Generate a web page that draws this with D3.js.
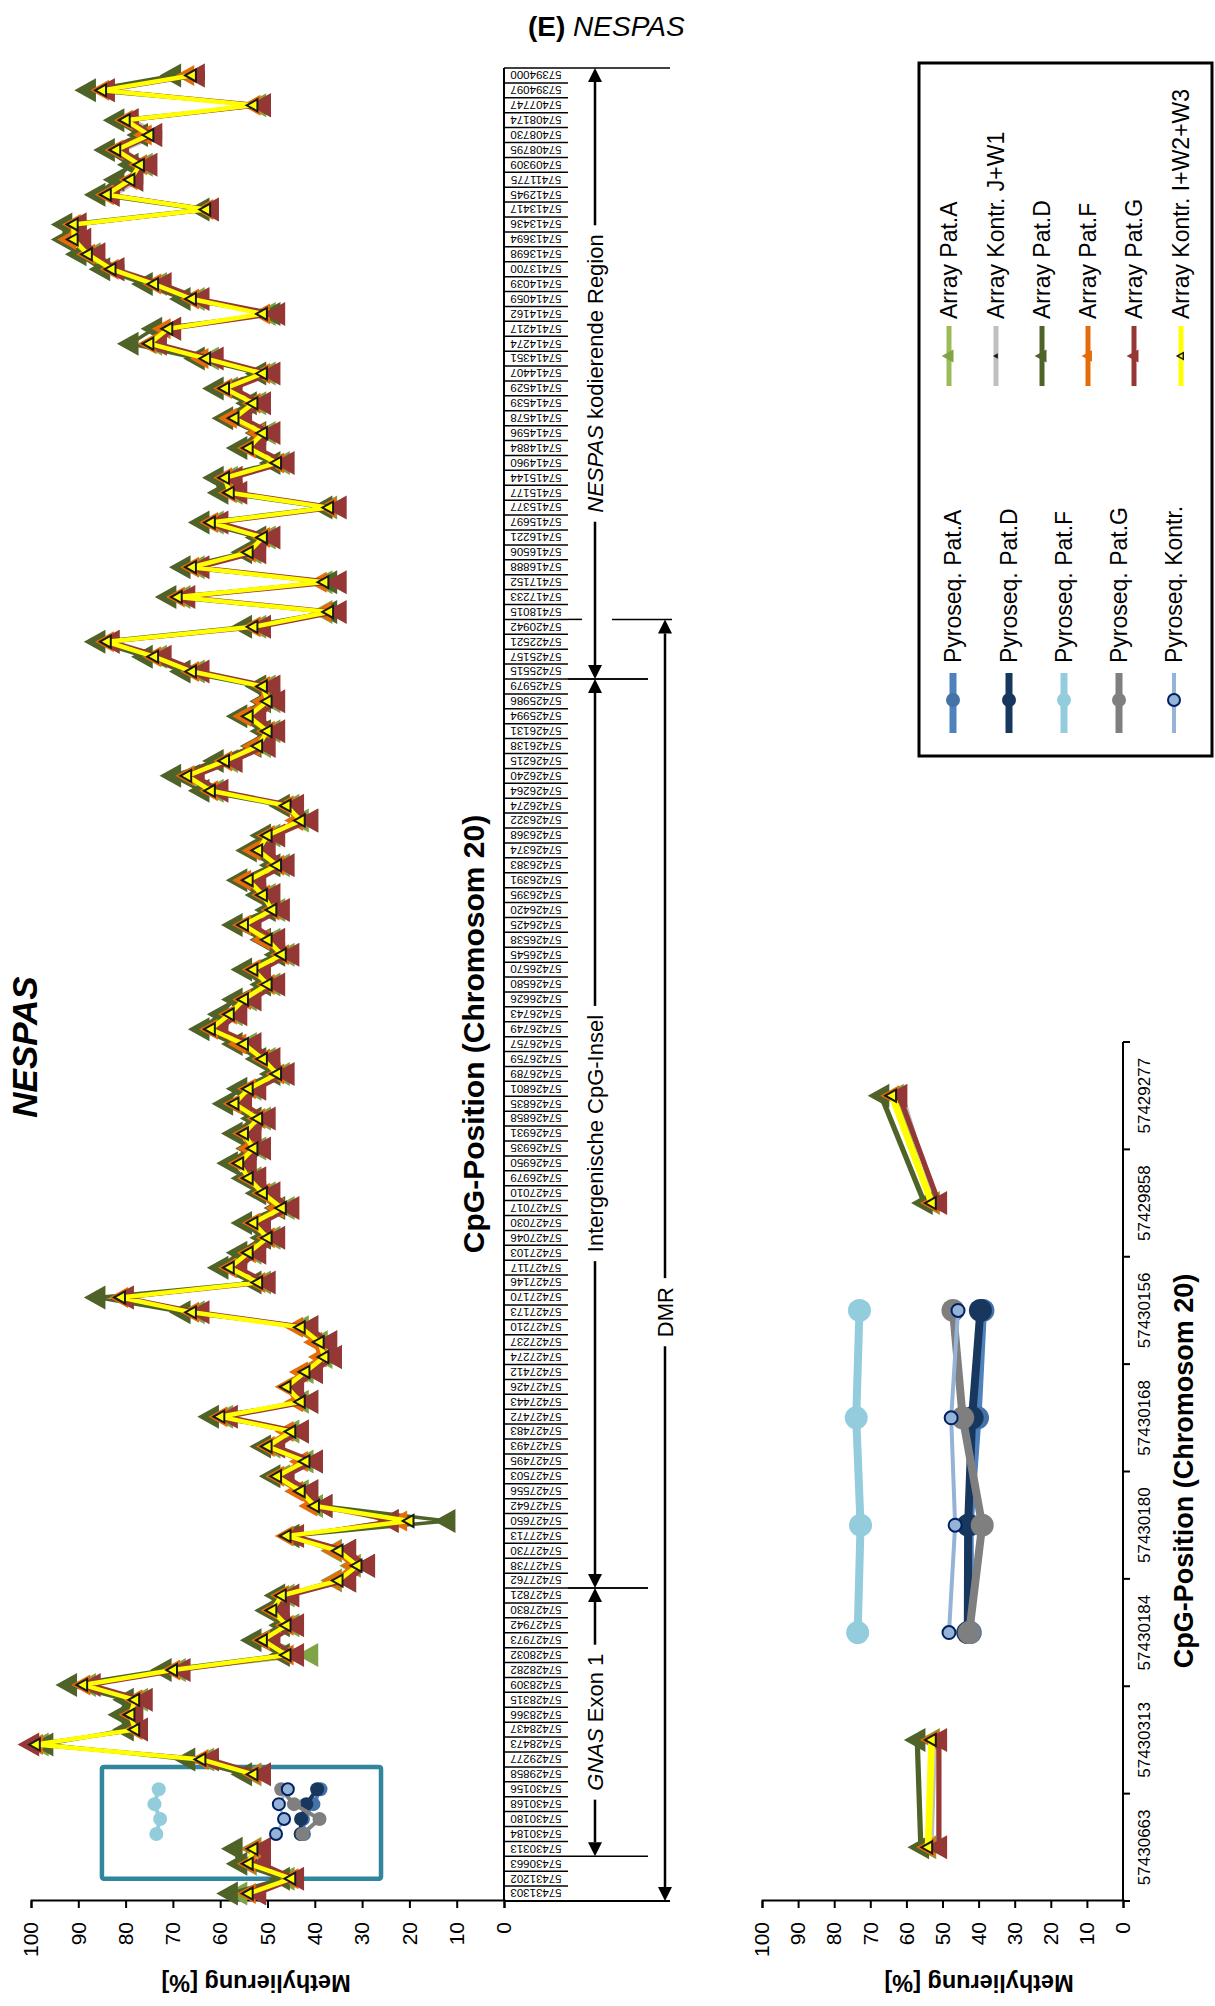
<!DOCTYPE html>
<html><head><meta charset="utf-8">
<script src="https://cdn.jsdelivr.net/npm/d3@7"></script>
<style>body{margin:0;background:#fff}svg{display:block}text{font-family:"Liberation Sans",Arial,sans-serif}</style>
</head><body><svg id="c" width="1215" height="2006"></svg>
<script>
// categories in page order (top = right end of the original x axis)
const categories = ["57394000","57394097","57407747","57408174","57408730","57408795","57409309","57411775","57412945","57413417","57413436","57413694","57413698","57413700","57414039","57414059","57414162","57414217","57414274","57414351","57414407","57414529","57414539","57414578","57414596","57414884","57414960","57415144","57415177","57415377","57415697","57416221","57416506","57416888","57417152","57417233","57418015","57420942","57422521","57425157","57425515","57425979","57425986","57425994","57426131","57426138","57426215","57426240","57426264","57426274","57426322","57426368","57426374","57426383","57426391","57426395","57426420","57426425","57426538","57426545","57426570","57426580","57426626","57426743","57426749","57426757","57426759","57426789","57426801","57426835","57426858","57426931","57426935","57426950","57426979","57427010","57427017","57427030","57427046","57427103","57427117","57427146","57427170","57427173","57427210","57427237","57427274","57427412","57427426","57427443","57427472","57427483","57427493","57427495","57427503","57427556","57427642","57427650","57427713","57427730","57427738","57427762","57427821","57427830","57427942","57427973","57428032","57428282","57428309","57428315","57428366","57428437","57428473","57429277","57429858","57430156","57430168","57430180","57430184","57430313","57430663","57431202","57431303"];
const N=null;
const arrayPatA = [65,84,52,79,74,81,76,78,83,62,90,90,87,82,73,65,50,70,74,62,50,58,52,56,50,53,47,58,57,37,61,50,53,65,38,68,38,52,83,73,65,50,49,53,49,51,58,66,61,45,43,49,51,47,53,50,48,54,49,46,52,49,54,57,61,54,50,47,53,56,51,54,52,55,53,50,46,52,49,53,57,51,80,65,43,39,38,42,45,43,59,45,49,42,47,43,40,24,45,36,32,36,46,48,45,50,41,69,88,77,78,77,98,63,53,N,N,N,N,53,54,46,56];
const arrayKontrJW1 = [64,83,52,78,73,80,76,77,82,62,89,90,86,81,72,65,50,70,73,62,50,58,52,56,50,53,47,58,56,37,61,50,53,65,38,68,37,52,82,72,65,50,49,53,49,51,58,66,61,45,42,49,51,47,53,50,48,54,49,46,52,49,54,57,61,54,50,47,53,56,51,54,52,55,53,50,46,52,49,53,57,51,79,65,42,38,37,41,45,42,59,44,49,41,47,42,39,22,45,35,31,35,46,48,45,50,45,69,87,77,78,77,97,61,52,N,N,N,N,52,53,45,53];
const arrayPatD = [70,88,51,82,77,84,79,82,86,64,93,93,90,85,76,68,49,74,79,65,52,61,54,59,52,56,49,61,60,38,64,52,55,68,37,71,37,55,86,76,68,52,51,56,51,53,61,70,64,47,41,51,54,49,56,52,50,57,51,48,55,51,57,60,64,57,52,49,56,59,53,57,54,58,55,52,48,55,51,56,60,53,86,68,41,37,36,40,44,41,62,43,51,40,49,41,38,12,45,33,29,33,48,50,47,53,47,72,92,80,81,80,97,67,55,N,N,N,N,57,56,47,58];
const arrayPatF = [67,85,53,80,76,82,77,79,84,63,91,92,88,83,74,66,51,72,75,64,51,59,53,58,52,54,48,59,58,37,62,51,54,66,39,69,38,53,84,74,66,51,51,55,50,53,59,67,62,46,44,50,53,48,55,51,49,55,51,47,53,50,55,58,62,56,51,48,54,57,52,55,54,56,54,51,48,53,50,54,58,52,81,66,44,40,39,43,46,44,60,46,50,43,48,44,41,22,46,36,32,36,47,49,46,51,46,70,89,78,79,78,99,64,53,N,N,N,N,53,54,45,54];
const arrayPatG = [65,84,51,79,74,81,75,78,83,62,90,89,86,82,72,64,48,70,73,61,49,57,51,55,49,52,46,57,56,35,60,49,52,64,35,67,35,51,83,72,64,49,48,52,48,50,57,65,60,44,41,48,50,46,52,49,47,53,48,45,51,48,53,56,60,53,49,46,52,55,50,53,51,54,52,49,45,51,48,52,56,50,80,64,41,37,36,40,44,41,58,43,48,40,46,41,38,24,44,33,29,33,45,47,44,49,44,68,87,76,78,77,100,62,51,N,N,N,N,51,51,44,52];
const arrayKontrIW2W3 = [66,85,53,80,75,82,77,79,84,63,91,91,88,83,74,66,51,71,75,63,51,59,53,57,51,54,48,59,58,37,62,51,54,66,38,69,37,53,84,74,66,51,50,54,50,52,59,67,62,46,43,50,52,48,54,51,49,55,50,47,53,50,55,58,62,55,51,48,54,57,52,55,53,56,54,51,47,53,50,54,58,52,81,66,43,39,38,42,46,43,60,45,50,42,48,43,40,20,46,35,31,35,47,49,46,51,46,70,89,78,79,78,99,64,53,N,N,N,N,53,54,45,54];
const pyroCategories = ["57430184","57430180","57430168","57430156"];
const pyroPatA = [42.3,42.5,40.3,38.8];
const pyroPatD = [43.0,42.9,41.8,39.5];
const pyroPatF = [73.5,72.7,73.9,73.0];
const pyroPatG = [42.6,39.0,44.4,47.1];
const pyroKontr = [48.2,46.5,47.6,45.7];
const zoomCategories = ["57430663","57430313","57430184","57430180","57430168","57430156","57429858","57429277"];
const valueTicks = [0,10,20,30,40,50,60,70,80,90,100];

const W=2006;
const svg=d3.select('#c');
svg.append('rect').attr('width',1215).attr('height',2006).attr('fill','#fff');
svg.append('text').attr('x',528).attr('y',36).attr('font-size',28).attr('fill','#000')
  .call(t=>{t.append('tspan').attr('font-weight','bold').text('(E)');t.append('tspan').attr('font-style','italic').text(' NESPAS');});
const g=svg.append('g').attr('transform',`translate(0,${W}) rotate(-90)`);

const arraySeries=[
 {name:'Array Pat.A',v:arrayPatA,line:'#9BBB59',fill:'#7FA345',lw:3,ms:24},
 {name:'Array Kontr. J+W1',v:arrayKontrJW1,line:'#BFBFBF',fill:'#1a1a1a',lw:2.5,ms:10},
 {name:'Array Pat.D',v:arrayPatD,line:'#4F6228',fill:'#4F6228',lw:3.5,ms:24},
 {name:'Array Pat.F',v:arrayPatF,line:'#E46C0A',fill:'#E46C0A',lw:3,ms:21},
 {name:'Array Pat.G',v:arrayPatG,line:'#953735',fill:'#953735',lw:3.5,ms:24},
 {name:'Array Kontr. I+W2+W3',v:arrayKontrIW2W3,line:'#FFFF00',fill:'#FFFF00',stroke:'#1a1a1a',lw:4.5,ms:12}
];
const pyroSeries=[
 {name:'Pyroseq. Pat.A',v:pyroPatA,line:'#4F81BD',fill:'#4572A7'},
 {name:'Pyroseq. Pat.D',v:pyroPatD,line:'#17375E',fill:'#17375E'},
 {name:'Pyroseq. Pat.F',v:pyroPatF,line:'#93CDDD',fill:'#93CDDD'},
 {name:'Pyroseq. Pat.G',v:pyroPatG,line:'#7F7F7F',fill:'#7F7F7F'},
 {name:'Pyroseq. Kontr.',v:pyroKontr,line:'#95B3D7',fill:'#95B3D7',stroke:'#002060',small:true}
];
function triPath(s){const h=s*0.9;return `M0,${-h*0.62}L${s/2},${h*0.38}L${-s/2},${h*0.38}Z`;}

// ---------- main chart ----------
const x=d3.scaleBand().domain(categories.slice().reverse()).range([105,1938]);
const bw=x.bandwidth();
const cx=c=>x(c)+bw/2;
const y=d3.scaleLinear().domain([0,100]).range([504,31]);
const main=g.append('g');
const ax=main.append('g').attr('transform','translate(105,0)')
  .call(d3.axisLeft(y).tickValues(valueTicks).tickSize(7).tickPadding(14));
ax.selectAll('path,line').attr('stroke','#000').attr('stroke-width',2);
ax.selectAll('text').attr('font-size',21);
main.append('line').attr('x1',105).attr('x2',105).attr('y1',504).attr('y2',670).attr('stroke','#000').attr('stroke-width',2);
main.append('line').attr('x1',105).attr('x2',1938).attr('y1',504).attr('y2',504).attr('stroke','#000').attr('stroke-width',2);
main.append('line').attr('x1',1938).attr('x2',1938).attr('y1',504).attr('y2',670).attr('stroke','#000').attr('stroke-width',1.5);
main.selectAll('.sep').data(categories).join('line').attr('x1',c=>x(c)).attr('x2',c=>x(c))
  .attr('y1',504).attr('y2',568).attr('stroke','#000').attr('stroke-width',1.5);
main.selectAll('.cl').data(categories).join('text')
  .attr('transform',c=>`translate(${cx(c)},536) rotate(-90)`)
  .attr('text-anchor','middle').attr('dy','0.36em').attr('font-size',11.5).text(c=>c);
// annotations
const regions=[
 {it:'NESPAS',rest:' kodierende Region',a:'57394000',b:'57425515',col:595,shift:0},
 {it:'',rest:'Intergenische CpG-Insel',a:'57425979',b:'57427762',col:595,shift:0},
 {it:'GNAS',rest:' Exon 1',a:'57427821',b:'57430313',col:595,shift:0},
 {it:'',rest:'DMR',a:'57420942',b:'57431303',col:665,shift:-52}
];
const annL=main.append('g'), annT=main.append('g');
regions.forEach(r=>{
  const lo=Math.min(x(r.a),x(r.b)), hi=Math.max(x(r.a),x(r.b))+bw;
  if(r.col===595){
    [lo,hi].forEach(p=>{ if(p>106&&p<1937) annL.append('line').attr('x1',p).attr('x2',p).attr('y1',568).attr('y2',648).attr('stroke','#000').attr('stroke-width',1.5);});
  } else {
    annL.append('line').attr('x1',hi).attr('x2',hi).attr('y1',568).attr('y2',582).attr('stroke','#000').attr('stroke-width',1.5);
    annL.append('line').attr('x1',hi).attr('x2',hi).attr('y1',612).attr('y2',672).attr('stroke','#000').attr('stroke-width',1.5);
  }
  const ah=14, aw=7;
  annL.append('line').attr('x1',lo+ah).attr('x2',hi-ah).attr('y1',r.col).attr('y2',r.col).attr('stroke','#000').attr('stroke-width',2.5);
  annL.append('path').attr('d',`M${lo},${r.col}L${lo+ah},${r.col-aw}L${lo+ah},${r.col+aw}Z`).attr('fill','#000');
  annL.append('path').attr('d',`M${hi},${r.col}L${hi-ah},${r.col-aw}L${hi-ah},${r.col+aw}Z`).attr('fill','#000');
  const mid=(lo+hi)/2 + r.shift;
  const bgr=annT.append('rect').attr('fill','#fff');
  const t=annT.append('text').attr('x',mid).attr('y',r.col).attr('dy','0.35em').attr('text-anchor','middle').attr('font-size',22);
  if(r.it) t.append('tspan').attr('font-style','italic').text(r.it);
  t.append('tspan').text(r.rest);
  const bb=t.node().getBBox();
  bgr.attr('x',bb.x-9).attr('y',bb.y).attr('width',bb.width+18).attr('height',bb.height);
});
// titles
main.append('text').attr('x',972).attr('y',484).attr('text-anchor','middle').attr('font-size',30).attr('font-weight','bold').text('CpG-Position (Chromosom 20)');
main.append('text').attr('x',959).attr('y',37).attr('text-anchor','middle').attr('font-size',35).attr('font-weight','bold').attr('font-style','italic').text('NESPAS');
main.append('text').attr('transform',`translate(23,256) rotate(-90)`).attr('text-anchor','middle').attr('dy','0.35em').attr('font-size',23.5).attr('font-weight','bold').text('Methylierung [%]');
main.append('rect').attr('x',cx('57431202')).attr('y',y(85)).attr('width',x('57429277')-cx('57431202')).attr('height',y(26)-y(85))
  .attr('fill','none').attr('stroke','#31859C').attr('stroke-width',4.5).attr('rx',2);

function drawArrays(parent,xs,ys,cats,big){
  arraySeries.forEach(s=>{
    const pts=cats.map(c=>({c,v:s.v[categories.indexOf(c)]}));
    const line=d3.line().defined(d=>d.v!=null).x(d=>xs(d.c)).y(d=>ys(d.v));
    parent.append('path').attr('d',line(pts)).attr('fill','none').attr('stroke',s.line).attr('stroke-width',s.lw*(big?1.5:1)).attr('stroke-linejoin','round');
    parent.selectAll(null).data(pts.filter(d=>d.v!=null)).join('path')
      .attr('transform',d=>`translate(${xs(d.c)},${ys(d.v)})`).attr('d',triPath(s.ms*(big?1.0:1)))
      .attr('fill',s.fill).attr('stroke',s.stroke||'none').attr('stroke-width',s.stroke?2:0);
  });
}
function drawPyro(parent,xs,ys,big){
  pyroSeries.forEach(s=>{
    const pts=pyroCategories.map((c,i)=>({c,v:s.v[i]}));
    const lw=big?(s.small?4:8):(s.small?2.5:4), r=big?(s.small?6.5:11.5):(s.small?6:7);
    parent.append('path').attr('d',d3.line().x(d=>xs(d.c)).y(d=>ys(d.v))(pts)).attr('fill','none').attr('stroke',s.line).attr('stroke-width',lw);
    parent.selectAll(null).data(pts).join('circle').attr('cx',d=>xs(d.c)).attr('cy',d=>ys(d.v)).attr('r',r)
      .attr('fill',s.fill).attr('stroke',s.stroke||'none').attr('stroke-width',s.stroke?2:0);
  });
}
const plot=main.append('g');
drawArrays(plot,cx,y,categories,false);
drawPyro(plot,cx,y,false);

// ---------- zoom chart ----------
const x2=d3.scaleBand().domain(zoomCategories).range([105,964]);
const cx2=c=>x2(c)+x2.bandwidth()/2;
const y2=d3.scaleLinear().domain([0,100]).range([1123,762]);
const zc=g.append('g');
const ax2=zc.append('g').attr('transform','translate(105,0)').call(d3.axisLeft(y2).tickValues(valueTicks).tickSize(7).tickPadding(14));
ax2.selectAll('path,line').attr('stroke','#000').attr('stroke-width',2);
ax2.selectAll('text').attr('font-size',21);
zc.append('line').attr('x1',105).attr('x2',964).attr('y1',1123).attr('y2',1123).attr('stroke','#000').attr('stroke-width',2);
zc.selectAll('.t2').data(zoomCategories.concat(['end'])).join('line')
  .attr('x1',(c,i)=>105+i*x2.bandwidth()).attr('x2',(c,i)=>105+i*x2.bandwidth()).attr('y1',1123).attr('y2',1130).attr('stroke','#000').attr('stroke-width',2);
zc.selectAll('.l2').data(zoomCategories).join('text').attr('x',cx2).attr('y',1150).attr('text-anchor','middle').attr('font-size',17).text(c=>c);
zc.append('text').attr('x',535).attr('y',1193).attr('text-anchor','middle').attr('font-size',27).attr('font-weight','bold').text('CpG-Position (Chromosom 20)');
zc.append('text').attr('transform',`translate(23,979) rotate(-90)`).attr('text-anchor','middle').attr('dy','0.35em').attr('font-size',23.5).attr('font-weight','bold').text('Methylierung [%]');
const plot2=zc.append('g');
drawArrays(plot2,cx2,y2,zoomCategories,true);
drawPyro(plot2,cx2,y2,true);

// ---------- legend ----------
const lg=g.append('g');
lg.append('rect').attr('x',1250).attr('y',919).attr('width',693).attr('height',293).attr('fill','#fff').attr('stroke','#000').attr('stroke-width',3);
const ly1=[949,996,1042,1088,1134,1181];
arraySeries.forEach((s,i)=>{
  const yy=ly1[i];
  lg.append('line').attr('x1',1620).attr('x2',1680).attr('y1',yy).attr('y2',yy).attr('stroke',s.line).attr('stroke-width',5);
  lg.append('path').attr('transform',`translate(1650,${yy})`).attr('d',triPath(s.ms*0.55)).attr('fill',s.fill).attr('stroke',s.stroke||'none').attr('stroke-width',s.stroke?1.5:0);
  lg.append('text').attr('x',1687).attr('y',yy).attr('dy','0.36em').attr('font-size',23).text(s.name);
});
const ly2=[953,1009,1064,1119,1174];
pyroSeries.forEach((s,i)=>{
  const yy=ly2[i];
  lg.append('line').attr('x1',1273).attr('x2',1333).attr('y1',yy).attr('y2',yy).attr('stroke',s.line).attr('stroke-width',s.small?4:7);
  lg.append('circle').attr('cx',1306).attr('cy',yy).attr('r',s.small?6:7).attr('fill',s.fill).attr('stroke',s.stroke||'none').attr('stroke-width',s.stroke?2:0);
  lg.append('text').attr('x',1343).attr('y',yy).attr('dy','0.36em').attr('font-size',23).text(s.name);
});
</script></body></html>
